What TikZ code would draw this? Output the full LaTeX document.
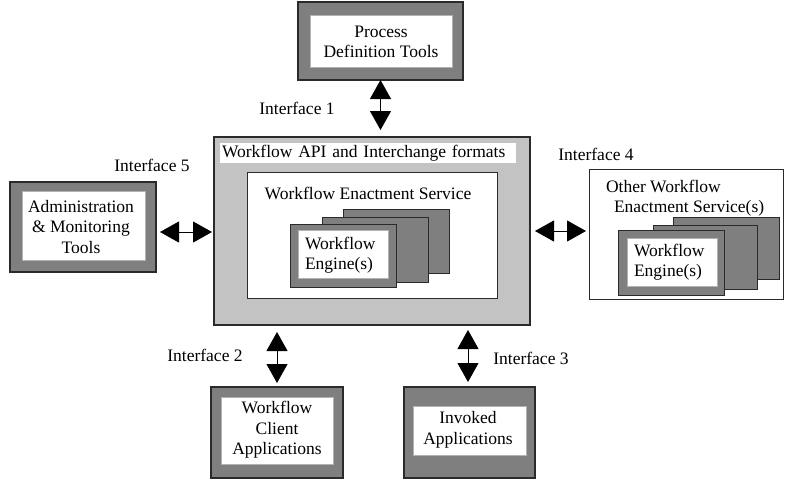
\documentclass[tikz,border=0pt]{standalone}
\usepackage{fontspec}
\setmainfont{Liberation Serif}
\newfontfamily\tms{Liberation Serif}
\usetikzlibrary{arrows.meta}
\definecolor{darkgr}{HTML}{7F7F7F}
\definecolor{lightgr}{HTML}{C3C3C3}
\definecolor{edge}{HTML}{2A2A2A}
\begin{document}
\begin{tikzpicture}[x=1pt,y=-1pt,
  every node/.style={inner sep=0pt, outer sep=0pt},
  frame/.style={draw=edge, line width=1.3pt, fill=darkgr, anchor=north west},
  panel/.style={draw=black!30, line width=0.4pt, fill=white, anchor=north west},
  card/.style={draw=edge, line width=1pt, fill=darkgr, anchor=north west},
  lab/.style={font=\tms\fontsize{17.5}{20.5}\selectfont, align=center},
  lbl/.style={font=\tms\fontsize{17.5}{20.5}\selectfont},
  link/.style={line width=1pt, {Triangle[length=19pt,width=21pt]}-{Triangle[length=19pt,width=21pt]}},
]
\useasboundingbox (0,0) rectangle (795,496);

% Process Definition Tools
\node[frame, minimum width=165, minimum height=78] (pdt) at (298,2) {};
\node[panel, minimum width=142, minimum height=52] (pdti) at (310,15) {};
\node[lab] (pdtt) at (381,42) {Process\\Definition Tools};

% Main box
\node[frame, fill=lightgr, minimum width=316, minimum height=188] (main) at (214,137) {};
\node[fill=white, anchor=north west, minimum height=20, text width=292, inner xsep=2pt, align=left, lbl] (api) at (220,143) {Workflow API and Interchange formats};
\node[draw=edge, line width=1pt, fill=white, anchor=north west, minimum width=250, minimum height=126] (wes) at (247,172) {};
\node[lbl] (west) at (368,193) {Workflow Enactment Service};
\node[card, minimum width=106, minimum height=64] (e3) at (343,209) {};
\node[card, minimum width=106, minimum height=65] (e2) at (322,217) {};
\node[card, minimum width=106, minimum height=63] (e1) at (290,224) {};
\node[panel, minimum width=90, minimum height=48] (e1i) at (298,230) {};
\node[lab, align=left, anchor=west] (e1t) at (305,255) {Workflow\\Engine(s)};

% Administration
\node[frame, minimum width=146, minimum height=90] (adm) at (10,182) {};
\node[panel, minimum width=123, minimum height=69] (admi) at (22,191) {};
\node[lab] (admt) at (81,227) {Administration\\\& Monitoring\\Tools};

% Other workflow enactment services
\node[draw=edge, line width=1pt, fill=white, anchor=north west, minimum width=194, minimum height=130] (oth) at (589,169) {};
\node[lab, align=left, anchor=north west] (otht) at (606,180) {Other Workflow\\\hspace*{8pt}Enactment Service(s)};
\node[card, minimum width=106, minimum height=62] (o3) at (673,217) {};
\node[card, minimum width=104, minimum height=64] (o2) at (653,225) {};
\node[card, minimum width=106, minimum height=65] (o1) at (618,230) {};
\node[panel, minimum width=90, minimum height=48] (o1i) at (627,238) {};
\node[lab, align=left, anchor=west] (o1t) at (634,262) {Workflow\\Engine(s)};

% Client applications
\node[frame, minimum width=132, minimum height=91] (cli) at (211,387) {};
\node[panel, minimum width=112, minimum height=67] (clii) at (221,397) {};
\node[lab] (clit) at (277,430) {Workflow\\Client\\Applications};

% Invoked applications
\node[frame, minimum width=131, minimum height=91] (inv) at (404,387) {};
\node[panel, minimum width=113, minimum height=49] (invi) at (413,406) {};
\node[lab] (invt) at (468,430) {Invoked\\Applications};

% Interface labels
\node[lbl] (if1) at (297,108) {Interface 1};
\node[lbl] (if5) at (152,165) {Interface 5};
\node[lbl] (if4) at (596,154) {Interface 4};
\node[lbl] (if2) at (205,355) {Interface 2};
\node[lbl] (if3) at (531,358) {Interface 3};

% Connectors
\draw[link, shorten >=7pt] (pdt.south) -- (pdt.south |- main.north);
\draw[link, shorten <=4pt, shorten >=2pt] ([yshift=-5pt]adm.east) -- ([yshift=-5pt]adm.east -| main.west);
\draw[link, shorten <=5pt, shorten >=3pt] (main.east) -- (main.east -| oth.west);
\draw[link, shorten <=7pt, shorten >=4pt] (cli.north |- main.south) -- (cli.north);
\draw[link, shorten <=5pt, shorten >=5pt] ([xshift=-1.5pt]inv.north |- main.south) -- ([xshift=-1.5pt]inv.north);
\end{tikzpicture}
\end{document}
